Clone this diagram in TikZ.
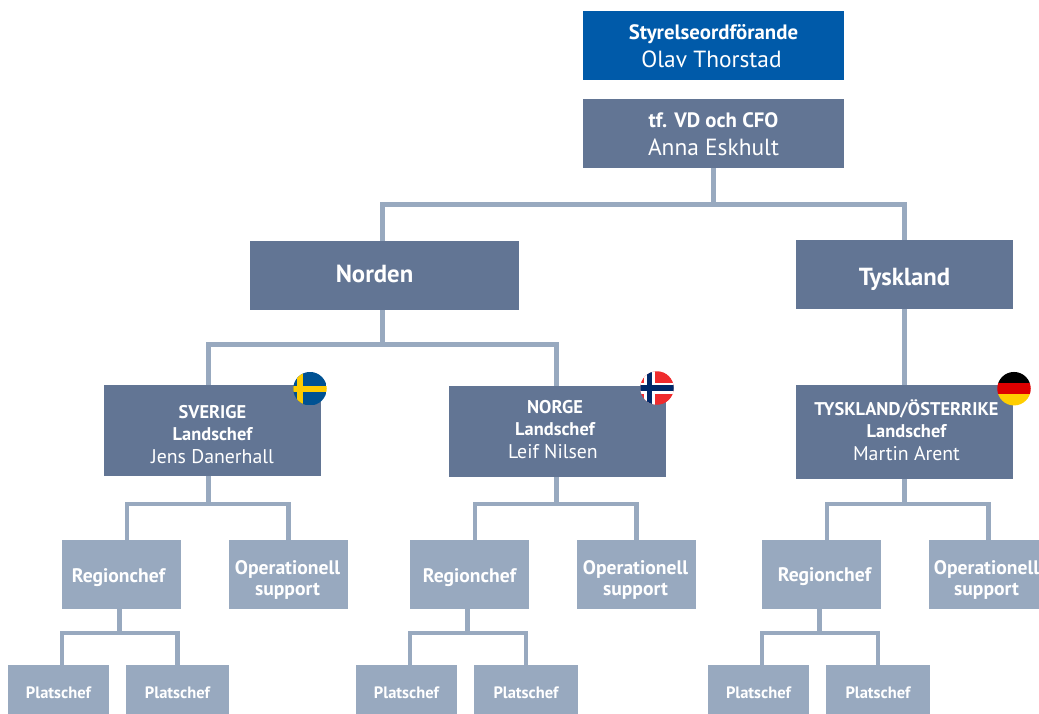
\documentclass[tikz,border=0pt]{standalone}
\usepackage{fontspec}
\setmainfont{PT Sans}
\usetikzlibrary{positioning}
\definecolor{topblue}{HTML}{005AA9}
\definecolor{slate}{HTML}{627594}
\definecolor{pale}{HTML}{98A9BF}
\definecolor{swblue}{HTML}{005293}
\definecolor{swyellow}{HTML}{FECB00}
\definecolor{nored}{HTML}{EF2B2D}
\definecolor{noblue}{HTML}{002868}
\definecolor{dered}{HTML}{DD0000}
\definecolor{deyellow}{HTML}{FFCE00}
\newcommand{\rolefont}{\fontsize{20.8pt}{28pt}\selectfont\bfseries}
\newcommand{\namefont}{\fontsize{23.4pt}{28pt}\selectfont\mdseries}
\newcommand{\landfont}{\fontsize{18.4pt}{22.5pt}\selectfont\bfseries}
\newcommand{\landname}{\fontsize{19.8pt}{22.5pt}\selectfont\mdseries}

\begin{document}
\begin{tikzpicture}[
				x=1pt, y=1pt,
				lastline/.style={text depth=0pt, text height=#1},
				toprole/.style={rectangle, fill=topblue, text=white, minimum width=261pt, minimum height=69pt, inner sep=0pt, outer sep=0pt, align=center, font=\rolefont, lastline=43pt},
				ceorole/.style={toprole, fill=slate},
				areabox/.style={rectangle, fill=slate, text=white, minimum height=69pt, inner sep=0pt, outer sep=0pt, font=\fontsize{24.7pt}{26pt}\selectfont\bfseries},
				landbox/.style={rectangle, fill=slate, text=white, minimum width=217pt, inner sep=0pt, outer sep=0pt, align=center, font=\landfont},
				regionbox/.style={rectangle, fill=pale, text=white, minimum width=119pt, minimum height=69pt, inner sep=0pt, outer sep=0pt, align=center, font=\fontsize{19.6pt}{21pt}\selectfont\bfseries, lastline=15pt},
				supportbox/.style={regionbox, lastline=41pt},
				sitebox/.style={rectangle, fill=pale, text=white, minimum height=54pt, inner sep=0pt, outer sep=0pt, font=\fontsize{16.5pt}{18pt}\selectfont\bfseries, lastline=12pt},
				flagdisc/.style={circle, minimum size=33.5pt, inner sep=0pt, outer sep=0pt},
				bigline/.style={draw=pale, line width=5pt},
				smallline/.style={draw=pale, line width=4.2pt},
				]
		\useasboundingbox (0,0) rectangle (1039,-713);

		%Nodes
		\node[toprole]	(chair)	at (713.5,-45.5)	{Styrelseordförande\\\hspace*{-4pt}{\namefont Olav Thorstad}};
		\node[ceorole]	(ceo)	[below=19pt of chair]	{tf. VD och CFO\\{\namefont Anna Eskhult}};

		\node[areabox, minimum width=269pt, lastline=14.4pt]	(norden)	[below=73pt of ceo, xshift=-329pt]	{\hspace*{-20pt}Norden};
		\node[areabox, minimum width=217pt, lastline=21pt]	(tyskland)	[right=277pt of norden, yshift=1pt]	{Tyskland};

		\node[landbox, minimum height=91pt, lastline=65pt]	(sverige)	[below=75pt of norden, xshift=-172pt]	{SVERIGE\\Landschef\\{\landname Jens Danerhall}};
		\node[landbox, minimum height=91pt, lastline=53pt]	(norge)	[right=128pt of sverige, yshift=-1pt]	{\hspace*{-5pt}NORGE\\\hspace*{-5pt}Landschef\\\hspace*{-9pt}{\landname Leif Nilsen}};
		\node[landbox, minimum height=94pt, lastline=56pt]	(osterrike)	[below=76pt of tyskland]	{\hspace*{4pt}TYSKLAND/ÖSTERRIKE\\\hspace*{4pt}Landschef\\\hspace*{4pt}{\landname Martin Arent}};

		\node[regionbox]	(regse)	[below=64pt of sverige, xshift=-91pt]	{\hspace*{-6pt}Regionchef};
		\node[supportbox]	(opse)	[right=48pt of regse]	{\hspace*{-2pt}Operationell\\\hspace*{-2pt}support};
		\node[regionbox]	(regno)	[below=63pt of norge, xshift=-88pt]	{Regionchef};
		\node[supportbox]	(opno)	[right=48pt of regno]	{\hspace*{-2pt}Operationell\\\hspace*{-2pt}support};
		\node[regionbox, lastline=14pt]	(regde)	[below=61pt of osterrike, xshift=-83pt]	{\hspace*{6pt}Regionchef};
		\node[supportbox]	(opde)	[right=48pt of regde]	{\hspace*{-4pt}Operationell\\\hspace*{-4pt}support};

		\node[sitebox, minimum width=101pt]	(sitesea)	[below=56pt of regse, xshift=-63pt]	{Platschef};
		\node[sitebox, minimum width=103pt]	(siteseb)	[right=17pt of sitesea]	{Platschef};
		\node[sitebox, minimum width=101pt]	(sitenoa)	[below=56pt of regno, xshift=-63pt]	{Platschef};
		\node[sitebox, minimum width=104pt]	(sitenob)	[right=17pt of sitenoa]	{Platschef};
		\node[sitebox, minimum width=101pt]	(sitedea)	[below=56pt of regde, xshift=-63pt]	{Platschef};
		\node[sitebox, minimum width=104pt]	(sitedeb)	[right=17pt of sitedea]	{Platschef};

		%Flags
		\node[flagdisc, xshift=-11pt, yshift=-3.7pt, path picture={
				\fill[swblue] (path picture bounding box.south west) rectangle (path picture bounding box.north east);
				\fill[swyellow] (-13pt,-20pt) rectangle (-7pt,20pt);
				\fill[swyellow] (-20pt,-3pt) rectangle (20pt,3pt);
			}]	(flagse)	at (sverige.north east)	{};
		\node[flagdisc, xshift=-9pt, yshift=-2pt, path picture={
				\fill[nored] (path picture bounding box.south west) rectangle (path picture bounding box.north east);
				\fill[white] (-13pt,-20pt) rectangle (-2pt,20pt);
				\fill[white] (-20pt,-5.5pt) rectangle (20pt,5.5pt);
				\fill[noblue] (-10pt,-20pt) rectangle (-5pt,20pt);
				\fill[noblue] (-20pt,-2.8pt) rectangle (20pt,2.8pt);
			}]	(flagno)	at (norge.north east)	{};
		\node[flagdisc, xshift=1pt, yshift=-3.7pt, path picture={
				\fill[black] (-20pt,20pt) rectangle (20pt,5.4pt);
				\fill[dered] (-20pt,5.4pt) rectangle (20pt,-5.4pt);
				\fill[deyellow] (-20pt,-5.4pt) rectangle (20pt,-20pt);
			}]	(flagde)	at (osterrike.north east)	{};

		%Bus points
		\coordinate[below=36pt of ceo]	(ceobus);
		\coordinate[below=34pt of norden, xshift=-2.5pt]	(nordenbus);
		\coordinate[below=28pt of sverige, xshift=-4.5pt]	(sebus);
		\coordinate[below=27pt of norge, xshift=-1pt]	(nobus);
		\coordinate[below=25pt of osterrike]	(debus);
		\coordinate[below=24pt of regse, xshift=-2pt]	(regsebus);
		\coordinate[below=24pt of regno, xshift=-2pt]	(regnobus);
		\coordinate[below=24pt of regde, xshift=-2pt]	(regdebus);

		%Lines
		\draw[bigline]	(ceo.south) -- (ceobus);
		\draw[bigline]	([xshift=-2.5pt]norden.north) |- (ceobus) -| (tyskland.north);
		\draw[bigline]	(nordenbus |- norden.south) -- (nordenbus);
		\draw[bigline]	([xshift=-4.5pt]sverige.north) |- (nordenbus) -| ([xshift=-1.5pt]norge.north);
		\draw[bigline]	(tyskland.south) -- (osterrike.north);

		\draw[bigline]	(sebus |- sverige.south) -- (sebus);
		\draw[bigline]	(nobus |- norge.south) -- (nobus);
		\draw[bigline]	(osterrike.south) -- (debus);
		\draw[smallline]	([xshift=5.5pt]regse.north) |- (sebus) -| (opse.north);
		\draw[smallline]	([xshift=5.5pt]regno.north) |- (nobus) -| (opno.north);
		\draw[smallline]	([xshift=5.5pt]regde.north) |- (debus) -| (opde.north);

		\draw[smallline]	(regsebus |- regse.south) -- (regsebus);
		\draw[smallline]	(regnobus |- regno.south) -- (regnobus);
		\draw[smallline]	(regdebus |- regde.south) -- (regdebus);
		\draw[smallline]	([xshift=3.5pt]sitesea.north) |- (regsebus) -| (siteseb.north);
		\draw[smallline]	([xshift=3.5pt]sitenoa.north) |- (regnobus) -| (sitenob.north);
		\draw[smallline]	([xshift=3.5pt]sitedea.north) |- (regdebus) -| (sitedeb.north);
\end{tikzpicture}
\end{document}
